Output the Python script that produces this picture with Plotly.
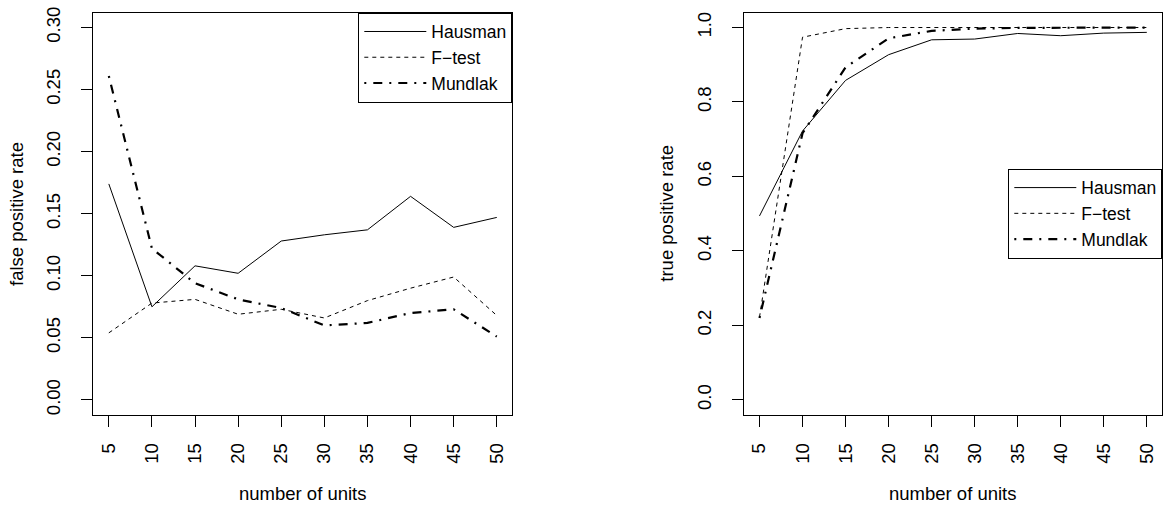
import plotly.graph_objects as go

# Number of units on the x axis
units = [5, 10, 15, 20, 25, 30, 35, 40, 45, 50]

# False positive rates
fpr_hausman = [0.174, 0.075, 0.108, 0.102, 0.128, 0.133, 0.137, 0.164, 0.139, 0.147]
fpr_ftest = [0.054, 0.078, 0.081, 0.069, 0.073, 0.066, 0.080, 0.090, 0.099, 0.068]
fpr_mundlak = [0.261, 0.122, 0.094, 0.081, 0.074, 0.060, 0.062, 0.070, 0.073, 0.051]

# True positive rates
tpr_hausman = [0.494, 0.722, 0.858, 0.927, 0.967, 0.969, 0.984, 0.978, 0.985, 0.987]
tpr_ftest = [0.222, 0.974, 0.997, 1.000, 1.000, 1.000, 1.000, 1.000, 1.000, 1.000]
tpr_mundlak = [0.220, 0.716, 0.893, 0.971, 0.991, 0.997, 0.999, 1.000, 1.000, 1.000]

fpr_ticks = [0.00, 0.05, 0.10, 0.15, 0.20, 0.25, 0.30]
tpr_ticks = [0.0, 0.2, 0.4, 0.6, 0.8, 1.0]

FONT = "Liberation Sans, Arial, Helvetica, sans-serif"
FS = 18.5
LEG_FS = 17.5
W, H = 1164, 506

styles = {
    "Hausman": dict(color="black", width=1, dash="solid"),
    "F\u2212test": dict(color="black", width=1, dash="4px,4px"),
    "Mundlak": dict(color="black", width=2.2, dash="2px,7px,9px,7px"),
}

fig = go.Figure()

left_series = [fpr_hausman, fpr_ftest, fpr_mundlak]
right_series = [tpr_hausman, tpr_ftest, tpr_mundlak]
for (name, st), ys in zip(styles.items(), left_series):
    fig.add_trace(go.Scatter(x=units, y=ys, mode="lines", name=name, line=st,
                             xaxis="x", yaxis="y", legend="legend"))
for (name, st), ys in zip(styles.items(), right_series):
    fig.add_trace(go.Scatter(x=units, y=ys, mode="lines", name=name, line=st,
                             xaxis="x2", yaxis="y2", legend="legend2"))

# panel boxes in pixels (left, right, top, bottom)
L1, R1 = 93.3, 512.3
L2, R2 = 744.0, 1162.3
TOP, BOT = 6.7, 413.7


def px_x(p):
    return p / W


def px_y(p):
    return 1 - p / H


axis_common = dict(
    showline=True, mirror=True, linecolor="black", linewidth=1,
    ticks="outside", ticklen=11, tickwidth=1, tickcolor="black",
    showgrid=False, zeroline=False, tickangle=-90,
    tickfont=dict(family=FONT, size=FS, color="black"),
)

legend_common = dict(
    bordercolor="black", borderwidth=1, bgcolor="white", itemwidth=62,
    font=dict(family=FONT, size=LEG_FS, color="black"),
)

xvals = units
fig.update_layout(
    xaxis=dict(domain=[px_x(L1), px_x(R1)], range=[3.2, 51.8], tickvals=xvals,
               anchor="y", ticklabelstandoff=9, **axis_common),
    yaxis=dict(domain=[px_y(BOT), px_y(TOP)], range=[-0.012, 0.312],
               tickvals=fpr_ticks, tickformat=".2f", anchor="x",
               ticklabelstandoff=14, **axis_common),
    xaxis2=dict(domain=[px_x(L2), px_x(R2)], range=[3.2, 51.8], tickvals=xvals,
                anchor="y2", ticklabelstandoff=9, **axis_common),
    yaxis2=dict(domain=[px_y(BOT), px_y(TOP)], range=[-0.04, 1.04],
                tickvals=tpr_ticks, tickformat=".1f", anchor="x2",
                ticklabelstandoff=14, **axis_common),
    legend=dict(x=px_x(R1), y=px_y(TOP), xanchor="right", yanchor="top",
                **legend_common),
    legend2=dict(x=px_x(R2), y=px_y((TOP + BOT) / 2), xanchor="right",
                 yanchor="middle", **legend_common),
    width=W, height=H,
    margin=dict(l=0, r=0, t=0, b=0),
    paper_bgcolor="white", plot_bgcolor="white",
    font=dict(family=FONT, size=FS, color="black"),
    showlegend=True,
)

# axis titles
title_font = dict(family=FONT, size=FS, color="black")
fig.add_annotation(text="number of units", xref="paper", yref="paper",
                   x=px_x((L1 + R1) / 2), y=px_y(493), showarrow=False,
                   xanchor="center", yanchor="middle", font=title_font)
fig.add_annotation(text="number of units", xref="paper", yref="paper",
                   x=px_x((L2 + R2) / 2), y=px_y(493), showarrow=False,
                   xanchor="center", yanchor="middle", font=title_font)
fig.add_annotation(text="false positive rate", xref="paper", yref="paper",
                   x=px_x(L1 - 77), y=px_y((TOP + BOT) / 2), showarrow=False,
                   textangle=-90, xanchor="center", yanchor="middle", font=title_font)
fig.add_annotation(text="true positive rate", xref="paper", yref="paper",
                   x=px_x(L2 - 77), y=px_y((TOP + BOT) / 2), showarrow=False,
                   textangle=-90, xanchor="center", yanchor="middle", font=title_font)

fig.write_html("out.html")
